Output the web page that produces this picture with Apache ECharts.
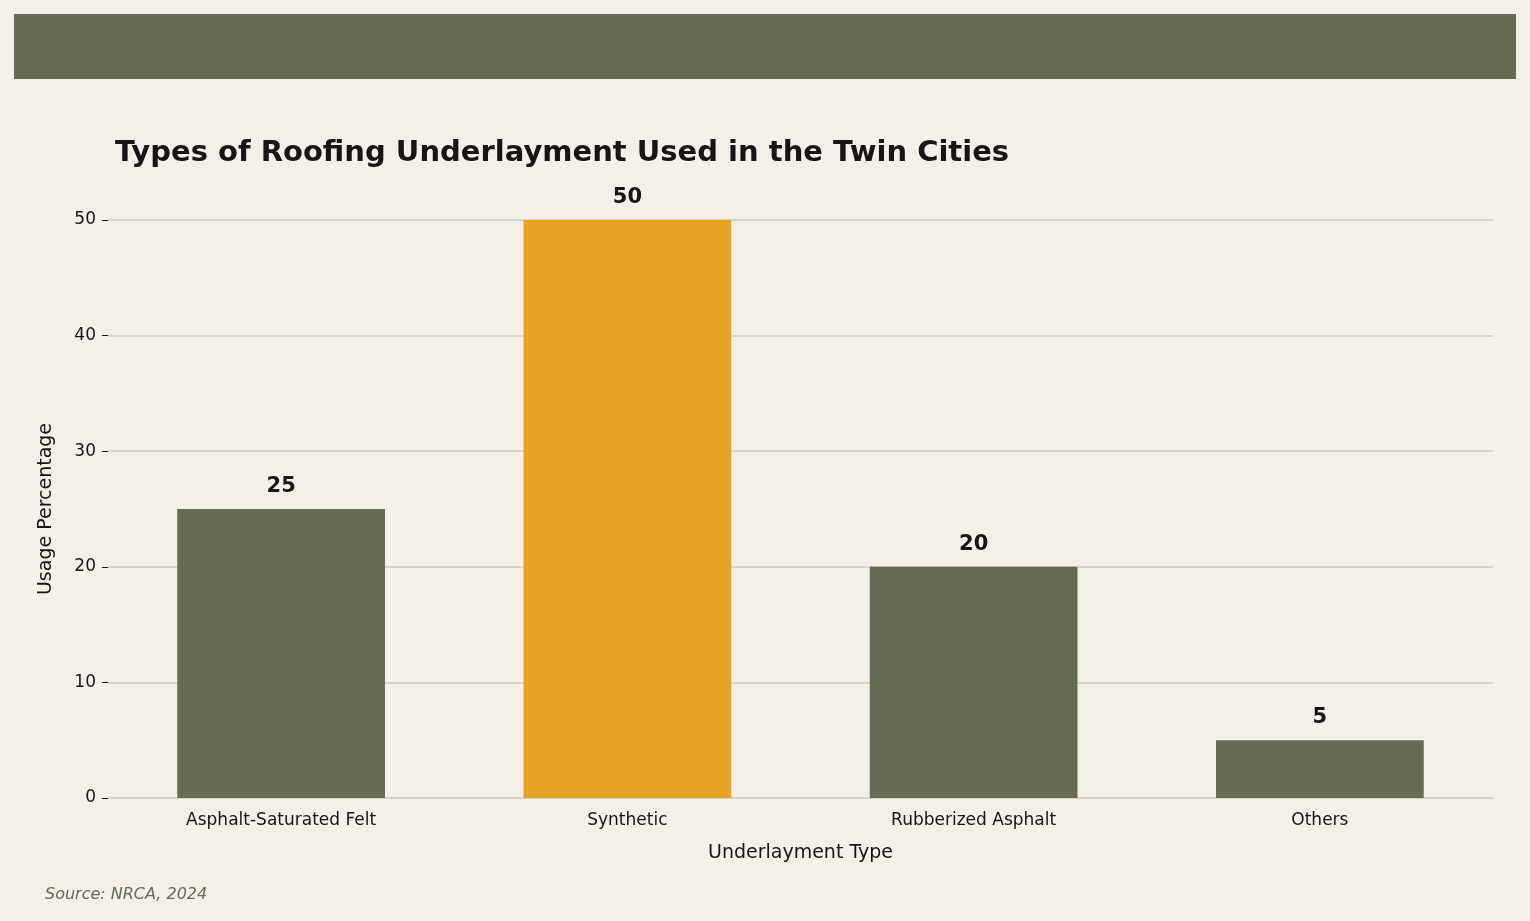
<!DOCTYPE html>
<html><head><meta charset="utf-8">
<script src="https://cdn.jsdelivr.net/npm/echarts@6/dist/echarts.min.js"></script>
<style>html,body{margin:0;padding:0;background:#F2F0E8;}#c{width:1530px;height:921px;}</style>
</head><body><div id="c"></div>
<script>
const categories = ["Asphalt-Saturated Felt", "Synthetic", "Rubberized Asphalt", "Others"];
const values = [25, 50, 20, 5];
const barColors = ["#666B55", "#E8A323", "#666B55", "#666B55"];
const yTicks = [0, 10, 20, 30, 40, 50];

const chart = echarts.init(document.getElementById('c'));
const F = "DejaVu Sans";
chart.setOption({
  backgroundColor: "#F2F0E8",
  textStyle: {fontFamily: F},
  title: {text: "Types of Roofing Underlayment Used in the Twin Cities", left: 110, top: 134,
    textStyle: {fontFamily: F, fontSize: 29, fontWeight: "bold", color: "#1A1416"}},
  graphic: [
    {type: "rect", left: 14, top: 14, shape: {width: 1502, height: 65}, style: {fill: "#666B55"}},
    {type: "text", left: 45, top: 887, style: {text: "Source: NRCA, 2024", fill: "#666B55", font: "italic 16px 'DejaVu Sans'"}}
  ],
  grid: {left: 108, right: 37, top: 220, bottom: 123},
  xAxis: {type: "category", data: categories,
    name: "Underlayment Type", nameLocation: "middle", nameGap: 46,
    nameTextStyle: {fontSize: 19, color: "#1A1416", fontFamily: F},
    axisLine: {lineStyle: {color: "#D6D3C4"}},
    axisTick: {alignWithLabel: true, length: 6, lineStyle: {color: "#1A1416"}},
    axisLabel: {fontSize: 17, color: "#1A1416", margin: 14, fontFamily: F}},
  yAxis: {type: "value", min: yTicks[0], max: yTicks[yTicks.length-1], interval: 10,
    name: "Usage Percentage", nameLocation: "middle", nameGap: 52,
    nameTextStyle: {fontSize: 19, color: "#1A1416", fontFamily: F},
    axisLine: {show: false},
    axisTick: {show: true, length: 6, lineStyle: {color: "#1A1416"}},
    axisLabel: {fontSize: 17, color: "#1A1416", margin: 12, fontFamily: F},
    splitLine: {lineStyle: {color: "#CFCDBD", width: 1.5}}},
  series: [{type: "bar", barWidth: "60%",
    data: values.map((v, i) => ({value: v, itemStyle: {color: barColors[i]}})),
    label: {show: true, position: "top", distance: 12, fontSize: 21, fontWeight: "bold", color: "#1A1416", fontFamily: F}}]
});
</script></body></html>
